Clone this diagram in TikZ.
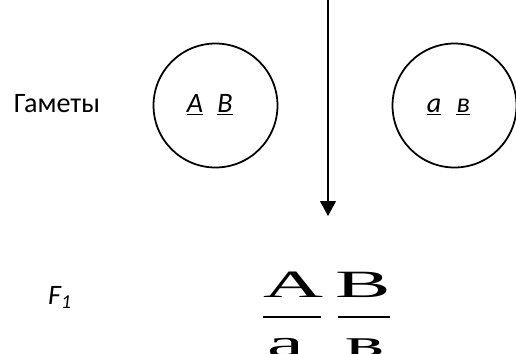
\documentclass[tikz,border=0pt]{standalone}
\usepackage{fontspec}
\setmainfont{Carlito}
\newfontfamily\serifcyr{Liberation Serif}
\usetikzlibrary{arrows.meta}

\begin{document}
\begin{tikzpicture}[x=0.02cm,y=-0.02cm,
  every node/.style={font=\fontsize{16}{18}\selectfont,anchor=base},
  gamete/.style={draw,line width=1pt,circle,minimum size=2.48cm,inner sep=0pt,anchor=center},
  gen/.style={font=\fontsize{16}{18}\selectfont\itshape},
  allele/.style={font=\fontsize{22}{24}\selectfont\serifcyr,xscale=2.15,inner sep=0pt},
  bar/.style={line width=1.6pt},
  arr/.style={-{Triangle[length=8.5pt,width=9pt]},line width=0.75pt}
]
\clip (0,0) rectangle (516,353);

% Gametes
\node (gam) at (57,112) {Гаметы};
\node[gamete] (g1) at (215.5,105.5) {};
\node[gen] (g1a) at (195,112) {\underline{A}};
\node[gen] (g1b) at (225,112) {\underline{B}};
\node[gamete] (g2) at (454.5,105.5) {};
\node[gen] (g2a) at (434,112) {\underline{a}};
\node[gen] (g2b) at (463,112) {\underline{в}};

% Arrow
\coordinate (top) at (328,0);
\coordinate (tip) at (328,216);
\draw[arr] (top) -- (tip);

% F1
\node[gen,anchor=base west] (f1) at (42,304) {F\textsubscript{1}};
\node[allele] (fA) at (294,297) {A};
\node[allele] (fB) at (363,297) {B};
\coordinate (barAl) at (263,317);
\coordinate (barAr) at (321,317);
\coordinate (barBl) at (338,317);
\coordinate (barBr) at (390,317);
\draw[bar] (barAl) -- (barAr);
\draw[bar] (barBl) -- (barBr);
\node[allele] (fa) at (286,356) {a};
\node[allele] (fb) at (365,356) {в};
\end{tikzpicture}
\end{document}
